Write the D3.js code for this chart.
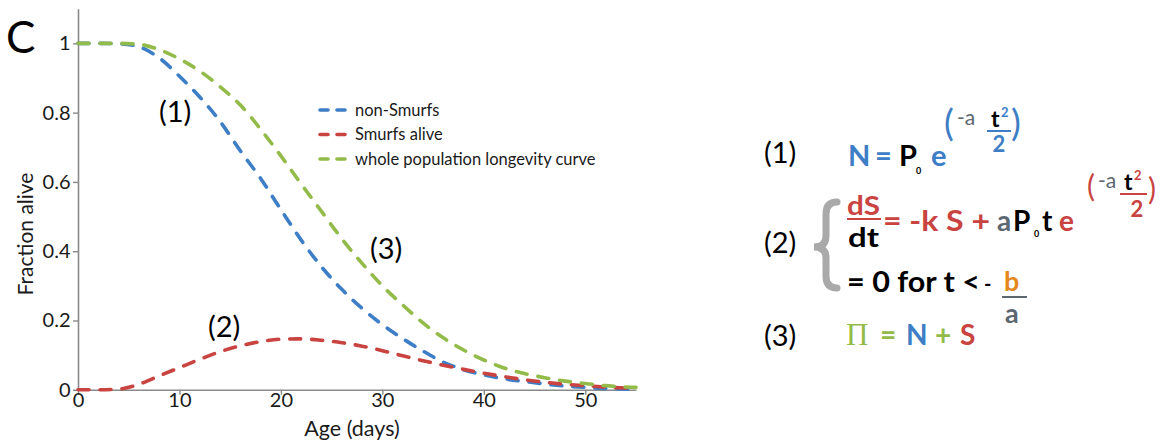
<!DOCTYPE html>
<html><head><meta charset="utf-8">
<script src="https://cdn.jsdelivr.net/npm/d3@7"></script>
<style>
html,body{margin:0;padding:0;background:#fff;}
svg{display:block;font-family:Lato,"Open Sans",sans-serif;}
</style></head>
<body>
<svg id="c" width="1168" height="443"></svg>
<script>
const days = [0,2,4,6,8,10,12,14,16,18,20,22,24,26,28,30,32,34,36,38,40,42,44,46,48,50,52,54,55];
const nonSmurfs = [1.000,1.000,0.999,0.990,0.958,0.905,0.845,0.775,0.690,0.610,0.520,0.432,0.355,0.290,0.235,0.188,0.148,0.112,0.080,0.058,0.043,0.032,0.024,0.017,0.011,0.007,0.004,0.002,0.001];
const smurfsAlive = [0,0,0.002,0.016,0.040,0.064,0.088,0.110,0.127,0.139,0.146,0.147,0.143,0.136,0.126,0.113,0.098,0.084,0.071,0.059,0.048,0.038,0.029,0.022,0.016,0.012,0.008,0.005,0.004];
const wholePop = [1.000,1.000,1.000,0.997,0.982,0.955,0.920,0.875,0.822,0.752,0.675,0.594,0.515,0.436,0.365,0.300,0.245,0.193,0.150,0.115,0.086,0.063,0.047,0.035,0.025,0.018,0.012,0.008,0.007];
const seriesNames = ["non-Smurfs","Smurfs alive","whole population longevity curve"];
const seriesColors = ["#3d7ec6","#c94340","#93bb4a"];
const xTicks = [0,10,20,30,40,50];
const yTicks = [0,0.2,0.4,0.6,0.8,1];

const svg = d3.select("#c");
svg.append("rect").attr("width",1168).attr("height",443).attr("fill","#fff");

const x = d3.scaleLinear().domain([0,55]).range([78,636]);
const y = d3.scaleLinear().domain([0,1.1]).range([389.8,8.7]);

const axisColor = "#8a8a8a";
const gx = svg.append("g").attr("transform","translate(0,389.8)")
  .call(d3.axisBottom(x).tickValues(xTicks).tickSize(5).tickPadding(-2).tickSizeOuter(0).tickFormat(d3.format("~g")));
const gy = svg.append("g").attr("transform","translate(78,0)")
  .call(d3.axisLeft(y).tickValues(yTicks).tickSize(5).tickPadding(2.5).tickSizeOuter(0).tickFormat(d3.format("~g")));
[gx,gy].forEach(g=>{
  g.select(".domain").attr("stroke",axisColor).attr("stroke-width",1.6);
  g.selectAll(".tick line").attr("stroke",axisColor).attr("stroke-width",1.4);
  g.selectAll(".tick text").attr("fill","#1a1a1a").style("font-size","20px").style("font-family","Lato,sans-serif");
});

const series = [nonSmurfs, smurfsAlive, wholePop];
const line = d3.line().x((d,i)=>x(days[i])).y(d=>y(d)).curve(d3.curveMonotoneX);
series.forEach((s,k)=>{
  svg.append("path").datum(s).attr("d",line).attr("fill","none")
    .attr("stroke",seriesColors[k]).attr("stroke-width",3.6)
    .attr("stroke-linecap","round").attr("stroke-dasharray","11,11");
});

// legend
const lg = svg.append("g");
seriesNames.forEach((n,i)=>{
  const yy = 110 + i*24.5;
  lg.append("line").attr("x1",320).attr("x2",345).attr("y1",yy).attr("y2",yy)
    .attr("stroke",seriesColors[i]).attr("stroke-width",3.6).attr("stroke-linecap","round").attr("stroke-dasharray","8,9");
  lg.append("text").attr("x",355).attr("y",yy+5.5).text(n).attr("fill","#1a1a1a").style("font-size","16.5px");
});

// axis titles
svg.append("text").attr("x",352).attr("y",436).attr("text-anchor","middle").text("Age (days)")
  .attr("fill","#1a1a1a").style("font-size","21.5px");
svg.append("text").attr("transform","translate(33,234) rotate(-90)").attr("text-anchor","middle").text("Fraction alive")
  .attr("fill","#1a1a1a").style("font-size","21px");

// panel letter and annotations
svg.append("text").attr("x",6).attr("y",53).text("C").attr("fill","#000").style("font-size","44px");
const ann = [["(1)",159,122],["(2)",208,337],["(3)",370,259]];
ann.forEach(a=>svg.append("text").attr("x",a[1]).attr("y",a[2]).text(a[0]).attr("fill","#000").style("font-size","29px"));

// equations panel
const BLUE="#3d7ec6", RED="#c94340", GREEN="#93bb4a", GRAY="#5c6770", ORANGE="#e3891d", BLK="#000";
function t(txt,xx,yy,col,size,opts={}){
  const el = svg.append("text").attr("x",xx).attr("y",yy).text(txt).attr("fill",col)
    .style("font-size",size+"px").style("font-weight",opts.w||700);
  if(opts.len) el.attr("textLength",opts.len).attr("lengthAdjust","spacingAndGlyphs");
  if(opts.family) el.style("font-family",opts.family);
  if(opts.anchor) el.attr("text-anchor",opts.anchor);
  return el;
}
function bar(x1,x2,yy,col){svg.append("line").attr("x1",x1).attr("x2",x2).attr("y1",yy).attr("y2",yy).attr("stroke",col).attr("stroke-width",2);}

// (1)
t("(1)",764,163,BLK,29,{w:400});
t("N",848,166,BLUE,29);
t("=",875,166,BLUE,29);
t("P",899,166,BLK,29);
t("0",916,174,BLK,9);
t("e",931,166,BLUE,29);
t("(",944,136,BLUE,37,{w:400});
t("-a",957,125,GRAY,21,{w:400});
t("t",991,127,BLK,23);
t("2",1001,117,BLUE,13);
bar(987,1011,131,BLUE);
t("2",999,152,BLUE,22,{anchor:"middle"});
t(")",1011,136,BLUE,37,{w:400});

// (2)
t("(2)",764,253,BLK,29,{w:400});
svg.append("path").attr("d","M837,202 Q826,202 826,214 L826,236 Q826,247 814,247 Q826,247 826,258 L826,276 Q826,288 837,288")
  .attr("fill","none").attr("stroke","#a9a9a9").attr("stroke-width",7).attr("stroke-linecap","round");
t("dS",847,215,RED,27,{len:33});
bar(847,881,219,RED);
t("dt",848,247,BLK,27,{len:31});
t("= -k S +",883,231,RED,28,{len:107});
t("a",997,231,GRAY,28);
t("P",1013,231,BLK,28);
t("0",1034,237,BLK,9);
t("t",1042,231,BLK,28);
t("e",1059,231,RED,28);
t("(",1087,197,RED,30,{w:400});
t("-a",1098,188,GRAY,21,{w:400});
t("t",1124,190,BLK,23);
t("2",1134,180,RED,13);
bar(1120,1147,194,RED);
t("2",1137,217,RED,22,{anchor:"middle"});
t(")",1148,200,RED,30,{w:400});

t("= 0 for t <",847,292,BLK,28,{len:133});
t("-",984,291,BLK,20);
t("b",1004,291,ORANGE,27);
bar(1002,1027,297,GRAY);
t("a",1005,323,GRAY,27);

// (3)
t("(3)",764,346,BLK,29,{w:400});
t("\u03A0",846,345,GREEN,31,{w:400,family:"'Liberation Serif',serif"});
t("=",880,345,GREEN,28);
t("N",906,345,BLUE,28);
t("+",935,345,GREEN,28);
t("S",960,345,RED,28);
</script>
</body></html>
